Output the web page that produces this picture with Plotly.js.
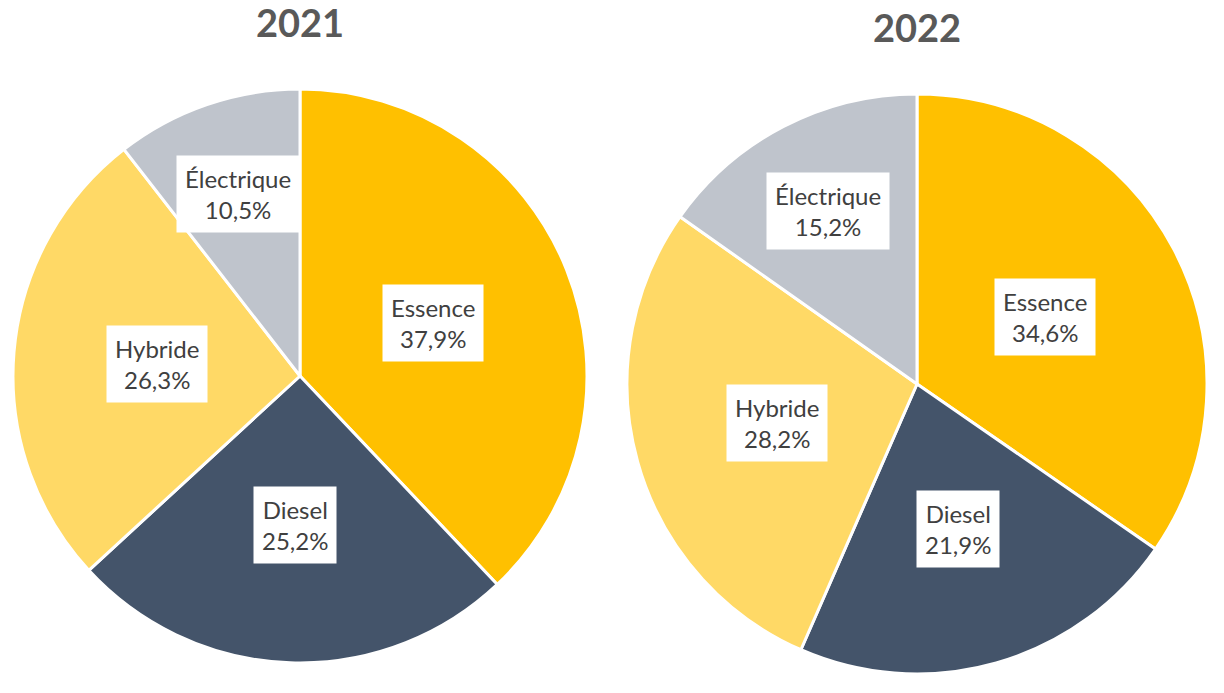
<!DOCTYPE html>
<html>
<head>
<meta charset="utf-8">
<script src="https://cdn.plot.ly/plotly-3.0.1.min.js"></script>
<style>html,body{margin:0;padding:0;background:#fff;}#chart{width:1224px;height:693px;}</style>
</head>
<body>
<div id="chart"></div>
<script>
const categories = ["Essence", "Diesel", "Hybride", "Électrique"];
const values2021 = [37.9, 25.2, 26.3, 10.5];
const values2022 = [34.6, 21.9, 28.2, 15.2];
const years = ["2021", "2022"];

const colors = ["#FFC000", "#44546A", "#FFD966", "#BFC4CC"];
const labelRadius = [0.5, 0.52, 0.5, 0.67];

const W = 1224, H = 693;
// pie geometry in pixels (center x, center y from top, radius)
const pies = [
  {cx: 300, cy: 376, r: 287, vals: values2021, titleY: 22},
  {cx: 917, cy: 384, r: 290, vals: values2022, titleY: 27}
];

const traces = [];
const annotations = [];
pies.forEach((p, i) => {
  traces.push({
    type: "pie",
    labels: categories,
    values: p.vals,
    sort: false,
    direction: "clockwise",
    rotation: 0,
    textinfo: "none",
    hoverinfo: "label+percent",
    marker: {colors: colors, line: {color: "#ffffff", width: 3}},
    domain: {
      x: [(p.cx - p.r) / W, (p.cx + p.r) / W],
      y: [(H - p.cy - p.r) / H, (H - p.cy + p.r) / H]
    },
    showlegend: false
  });
  const total = p.vals.reduce((a, b) => a + b, 0);
  let cum = 0;
  p.vals.forEach((v, k) => {
    const mid = (cum + v / 2) / total * 2 * Math.PI;
    cum += v;
    const rr = labelRadius[k] * p.r;
    const px = p.cx + rr * Math.sin(mid);
    const py = p.cy - rr * Math.cos(mid);
    annotations.push({
      x: px / W, y: (H - py) / H, xref: "paper", yref: "paper",
      xanchor: "center", yanchor: "middle", showarrow: false,
      text: categories[k] + "<br>" + v.toFixed(1).replace(".", ",") + "%",
      font: {family: "Lato, 'Open Sans', sans-serif", size: 24, color: "#404040"},
      bgcolor: "#ffffff", borderpad: 8, align: "center"
    });
  });
  annotations.push({
    x: p.cx / W, y: (H - p.titleY) / H, xref: "paper", yref: "paper",
    xanchor: "center", yanchor: "middle", showarrow: false,
    text: "<b>" + years[i] + "</b>",
    font: {family: "Lato, 'Open Sans', sans-serif", size: 38, color: "#595959"}
  });
});

Plotly.newPlot("chart", traces, {
  width: W, height: H,
  margin: {l: 0, r: 0, t: 0, b: 0},
  paper_bgcolor: "#ffffff",
  annotations: annotations
}, {displayModeBar: false, staticPlot: true});
</script>
</body>
</html>
